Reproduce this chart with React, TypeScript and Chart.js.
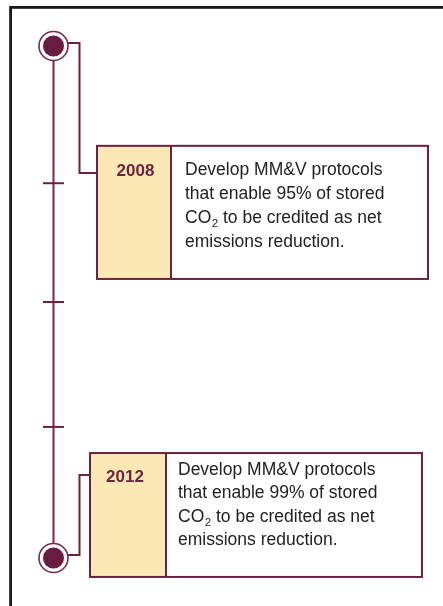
import React, { useEffect, useRef } from "react";
import { Chart, registerables } from "chart.js";

Chart.register(...registerables);

// ---- data ----
const milestoneYears = ["2008", "2012"];
const milestoneLines = [
  ["Develop MM&V protocols", "that enable 95% of stored", "CO₂ to be credited as net", "emissions reduction."],
  ["Develop MM&V protocols", "that enable 99% of stored", "CO₂ to be credited as net", "emissions reduction."],
];
// positions along the timeline (0 = top node, 100 = bottom node)
const timelineNodes = [0, 100];
const timelineTicks = [26.8, 50, 74.4];
const milestoneNodeIndex = [0, 1];
const milestoneAnchors = [24.8, 83.8];

// ---- layout / style ----
const W = 443;
const H = 606;
const LINE_X = 53.5;
const CONNECTOR_X = 79.5;
const MAROON = "#6b2240";
const CELL_FILL = "#fce8b4";
const boxLayout = [
  { left: 97, right: 428, top: 19.5, bottom: 45.5, divider: 171, textX: 185, firstBase: 29, lineGap: 24.2, yearX: 135.5, yearBase: 30.5 },
  { left: 90, right: 422, top: 79.5, bottom: 103.7, divider: 166, textX: 178, firstBase: 22, lineGap: 23.3, yearX: 125, yearBase: 29 },
];

const boxesPlugin = {
  id: "boxes",
  beforeDatasetsDraw(chart: any) {
    const ctx = chart.ctx;
    ctx.save();
    ctx.strokeStyle = "#1a1a1a";
    ctx.lineWidth = 2.8;
    ctx.strokeRect(10.6, 7.4, W + 20, H + 20);
    ctx.restore();
  },
  afterDatasetsDraw(chart: any) {
    const ctx = chart.ctx;
    const ys = chart.scales.y;
    const xs = chart.scales.x;
    ctx.save();
    milestoneYears.forEach((year, i) => {
      const b = boxLayout[i];
      const l = xs.getPixelForValue(b.left);
      const r = xs.getPixelForValue(b.right);
      const d = xs.getPixelForValue(b.divider);
      const t = ys.getPixelForValue(b.top);
      const bt = ys.getPixelForValue(b.bottom);
      ctx.fillStyle = "#ffffff";
      ctx.fillRect(l, t, r - l, bt - t);
      ctx.fillStyle = CELL_FILL;
      ctx.fillRect(l, t, d - l, bt - t);
      ctx.strokeStyle = MAROON;
      ctx.lineWidth = 2;
      ctx.strokeRect(l, t, r - l, bt - t);
      ctx.beginPath();
      ctx.moveTo(d, t);
      ctx.lineTo(d, bt);
      ctx.stroke();
      // year
      ctx.fillStyle = "#6e2440";
      ctx.font = "bold 17px 'Liberation Sans', Arial, sans-serif";
      ctx.textAlign = "center";
      ctx.textBaseline = "alphabetic";
      ctx.fillText(year, xs.getPixelForValue(b.yearX), t + b.yearBase);
      // description
      ctx.textAlign = "left";
      ctx.fillStyle = "#222222";
      milestoneLines[i].forEach((line, k) => {
        const y = t + b.firstBase + k * b.lineGap;
        let x = xs.getPixelForValue(b.textX);
        const parts = line.split("₂");
        parts.forEach((p, pi) => {
          ctx.font = "17.5px 'Liberation Sans', Arial, sans-serif";
          ctx.fillText(p, x, y);
          x += ctx.measureText(p).width;
          if (pi < parts.length - 1) {
            ctx.font = "11.5px 'Liberation Sans', Arial, sans-serif";
            ctx.fillText("2", x + 0.5, y + 4);
            x += ctx.measureText("2").width + 0.5;
          }
        });
      });
    });
    ctx.restore();
  },
};

export default function App() {
  const ref = useRef<HTMLCanvasElement>(null);
  useEffect(() => {
    document.body.style.margin = "0";
    const canvas = ref.current;
    if (!canvas) return;
    const connectorSets = milestoneYears.map((_, i) => {
      const nodeY = timelineNodes[milestoneNodeIndex[i]] - 0.6;
      const a = milestoneAnchors[i];
      return {
        type: "line" as const,
        data: [
          { x: LINE_X, y: nodeY },
          { x: CONNECTOR_X, y: nodeY },
          { x: CONNECTOR_X, y: a },
          { x: boxLayout[i].left, y: a },
        ],
        borderColor: MAROON,
        borderWidth: 2,
        pointRadius: 0,
        showLine: true,
        tension: 0,
        fill: false,
        clip: false as any,
      };
    });
    const chart = new Chart(canvas, {
      type: "scatter",
      data: {
        datasets: [
          {
            data: timelineNodes.map((y) => ({ x: LINE_X, y })),
            pointStyle: "circle",
            pointRadius: 10.5,
            backgroundColor: "#6a1c40",
            borderWidth: 0,
            clip: false as any,
          },
          {
            data: timelineNodes.map((y) => ({ x: LINE_X, y })),
            pointStyle: "circle",
            pointRadius: 14.5,
            backgroundColor: "#ffffff",
            borderColor: "#7a2a4c",
            borderWidth: 1.6,
            clip: false as any,
          },
          {
            data: timelineTicks.map((y) => ({ x: LINE_X, y })),
            pointStyle: "line",
            pointRadius: 10.5,
            borderColor: MAROON,
            borderWidth: 2,
            clip: false as any,
          },
          ...connectorSets,
          {
            type: "line" as const,
            data: [{ x: LINE_X, y: timelineNodes[0] }, { x: LINE_X, y: timelineNodes[1] }],
            borderColor: "#7a2e4a",
            borderWidth: 1,
            pointRadius: 0,
            showLine: true,
            clip: false as any,
          },
          {
            type: "line" as const,
            data: [{ x: LINE_X, y: timelineNodes[0] }, { x: LINE_X, y: timelineNodes[1] }],
            borderColor: "#c08c9c",
            borderWidth: 3,
            pointRadius: 0,
            showLine: true,
            clip: false as any,
          },
        ] as any,
      },
      options: {
        responsive: false,
        animation: false,
        devicePixelRatio: 1,
        layout: { autoPadding: false, padding: { top: 46, bottom: 48, left: 0, right: 0 } },
        scales: {
          x: { type: "linear", min: 0, max: W, display: false },
          y: { type: "linear", min: 0, max: 100, reverse: true, display: false },
        },
        plugins: { legend: { display: false }, tooltip: { enabled: false } },
        events: [],
      },
      plugins: [boxesPlugin],
    });
    return () => chart.destroy();
  }, []);
  return <canvas ref={ref} width={W} height={H} style={{ display: "block" }} />;
}
